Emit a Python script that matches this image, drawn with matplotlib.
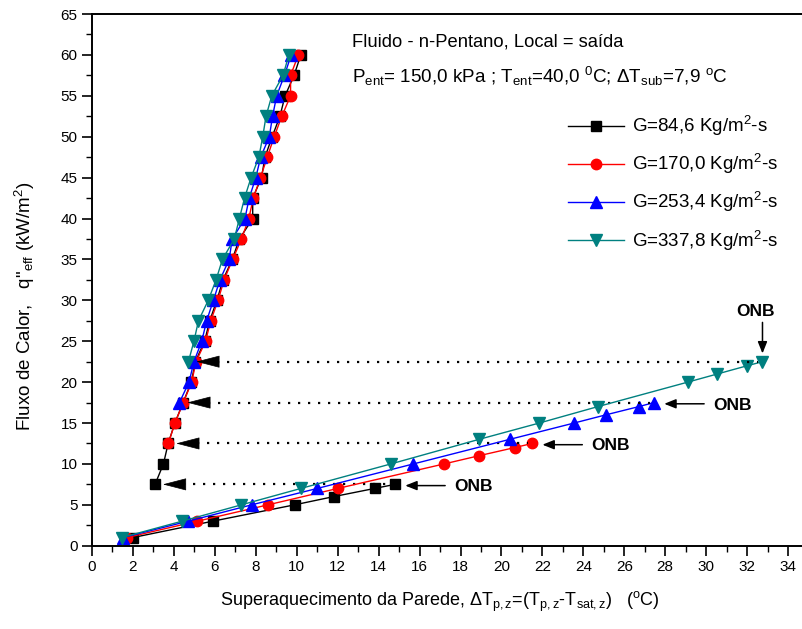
import numpy as np
import matplotlib
matplotlib.use('Agg')
import matplotlib.pyplot as plt
from matplotlib.ticker import MultipleLocator

plt.rcParams.update({
    'font.family': ['Liberation Sans', 'DejaVu Sans'],
    'mathtext.fontset': 'custom',
    'mathtext.rm': 'Liberation Sans',
    'mathtext.it': 'Liberation Sans:italic',
    'mathtext.bf': 'Liberation Sans:bold',
    'axes.linewidth': 1.4,
})

# lower branch (single phase) : x = wall superheat, y = heat flux
black_lo_x = [2.0, 5.9, 9.9, 11.8, 13.8, 14.8]
black_lo_y = [1, 3, 5, 6, 7, 7.5]
red_lo_x = [1.7, 5.15, 8.6, 12.0, 17.2, 18.9, 20.65, 21.5]
red_lo_y = [1, 3, 5, 7, 10, 11, 12, 12.5]
blue_lo_x = [1.5, 4.7, 7.8, 11.0, 15.7, 20.4, 23.55, 25.1, 26.7, 27.45]
blue_lo_y = [1, 3, 5, 7, 10, 13, 15, 16, 17, 17.5]
teal_lo_x = [1.45, 4.4, 7.3, 10.2, 14.6, 18.9, 21.85, 24.7, 29.1, 30.55, 32.0, 32.75]
teal_lo_y = [1, 3, 5, 7, 10, 13, 15, 17, 20, 21, 22, 22.5]

# upper branch (boiling)
black_up_y = [7.5, 10, 12.5, 15, 17.5, 20, 22.5, 25, 27.5, 30, 32.5, 35,
              37.5, 40, 42.5, 45, 47.5, 50, 52.5, 55, 57.5, 60]
black_up_x = [3.08, 3.49, 3.72, 4.05, 4.45, 4.85, 5.05, 5.5, 5.75, 6.1, 6.4, 6.85,
              7.2, 7.85, 7.85, 8.28, 8.45, 8.8, 9.18, 9.43, 9.87, 10.2]
red_up_y = [12.5, 15, 17.5, 20, 22.5, 25, 27.5, 30, 32.5, 35,
            37.5, 40, 42.5, 45, 47.5, 50, 52.5, 55, 57.5, 60]
red_up_x = [3.73, 4.05, 4.46, 4.87, 5.08, 5.55, 5.8, 6.16, 6.45, 6.87,
            7.3, 7.66, 7.88, 8.23, 8.56, 8.9, 9.27, 9.7, 9.7, 10.08]
blue_up_y = [17.5, 20, 22.5, 25, 27.5, 30, 32.5, 35,
             37.5, 40, 42.5, 45, 47.5, 50, 52.5, 55, 57.5, 60]
blue_up_x = [4.27, 4.74, 4.98, 5.36, 5.6, 5.93, 6.25, 6.7,
             6.85, 7.47, 7.68, 8.0, 8.24, 8.66, 8.82, 9.02, 9.4, 9.73]
teal_up_y = [22.5, 25, 27.5, 30, 32.5, 35,
             37.5, 40, 42.5, 45, 47.5, 50, 52.5, 55, 57.5, 60]
teal_up_x = [4.71, 4.98, 5.2, 5.68, 6.06, 6.37,
             6.95, 7.2, 7.45, 7.77, 8.15, 8.34, 8.5, 8.78, 9.33, 9.62]

labels = ['G=84,6 Kg/m$^2$-s', 'G=170,0 Kg/m$^2$-s',
          'G=253,4 Kg/m$^2$-s', 'G=337,8 Kg/m$^2$-s']
colors = ['black', '#FF0000', '#0000FF', '#008080']
markers = ['s', 'o', '^', 'v']
msizes = [6.5, 7.5, 8, 8]

series = [
    (black_lo_x, black_lo_y, black_up_x, black_up_y),
    (red_lo_x, red_lo_y, red_up_x, red_up_y),
    (blue_lo_x, blue_lo_y, blue_up_x, blue_up_y),
    (teal_lo_x, teal_lo_y, teal_up_x, teal_up_y),
]

fig = plt.figure(figsize=(8.02, 6.29), dpi=100)
ax = fig.add_axes([0.1147, 0.1324, 0.8853, 0.8453])

for (lx, ly, ux, uy), c, m, ms, lab in zip(series, colors, markers, msizes, labels):
    ax.plot(lx, ly, color=c, marker=m, ms=ms, lw=1.0, label=lab)
    ax.plot(ux, uy, color=c, marker=m, ms=ms, lw=1.0)

    # dotted jump line from ONB point to boiling curve, with big arrowhead
    y_onb = ly[-1]
    x_onb = lx[-1]
    tip = ux[0] + 0.38
    ax.plot([tip + 1.0, x_onb - 0.2], [y_onb, y_onb], color='black',
            ls=(0, (1, 3.5)), lw=1.6)
    ax.annotate('', xy=(tip, y_onb), xytext=(tip + 1.05, y_onb),
                arrowprops=dict(arrowstyle='-|>,head_length=1.55,head_width=0.4',
                                fc='black', ec='black', lw=0.5,
                                shrinkA=0, shrinkB=0))

# ONB labels
onb_arrow = dict(arrowstyle='-|>,head_length=0.7,head_width=0.28',
                 fc='black', ec='black', lw=1.1, shrinkA=0, shrinkB=0)
for (lx, ly, ux, uy) in series[:3]:
    x0, y0 = lx[-1], ly[-1]
    ax.annotate('', xy=(x0 + 0.5, y0 - 0.15), xytext=(x0 + 2.45, y0 - 0.15),
                arrowprops=onb_arrow)
    ax.text(x0 + 2.9, y0 - 0.3, 'ONB', fontsize=12.5, fontweight='bold',
            ha='left', va='center')
x0, y0 = teal_lo_x[-1], teal_lo_y[-1]
ax.annotate('', xy=(x0, y0 + 1.0), xytext=(x0, y0 + 4.8), arrowprops=onb_arrow)
ax.text(x0 - 0.35, y0 + 6.1, 'ONB', fontsize=12.5, fontweight='bold',
        ha='center', va='center')

ax.text(12.7, 61.0, 'Fluido - n-Pentano, Local = saída', fontsize=13.2,
        va='baseline')
ax.text(12.7, 56.6,
        r'P$_{\rm ent}$= 150,0 kPa ; T$_{\rm ent}$=40,0 $^{\rm 0}$C; '
        r'ΔT$_{\rm sub}$=7,9 $^{\rm o}$C', fontsize=13.6, va='baseline')

ax.set_xlim(0, 34.68)
ax.set_ylim(0, 65)
ax.xaxis.set_major_locator(MultipleLocator(2))
ax.xaxis.set_minor_locator(MultipleLocator(1))
ax.yaxis.set_major_locator(MultipleLocator(5))
ax.yaxis.set_minor_locator(MultipleLocator(2.5))
ax.tick_params(which='major', direction='out', length=7, width=1.2, labelsize=11)
ax.tick_params(which='minor', direction='out', length=4, width=1.0)
ax.spines['right'].set_visible(False)

ax.set_xlabel(r'Superaquecimento da Parede, ΔT$_{\rm p,z}$=(T$_{\rm p,z}$-T$_{\rm sat,z}$)   ($^{\rm o}$C)',
              fontsize=13)
ax.set_ylabel(r'Fluxo de Calor,   q"$_{\rm eff}$ (kW/m$^2$)', fontsize=13.5)
ax.xaxis.set_label_coords(0.49, -0.083)
ax.yaxis.set_label_coords(-0.077, 0.45)

ax.legend(loc='upper left', bbox_to_anchor=(0.66, 0.826), frameon=False,
          fontsize=13.5, handlelength=3.0, handletextpad=0.4, labelspacing=0.75,
          borderaxespad=0)

fig.savefig('out.png', dpi=100)
